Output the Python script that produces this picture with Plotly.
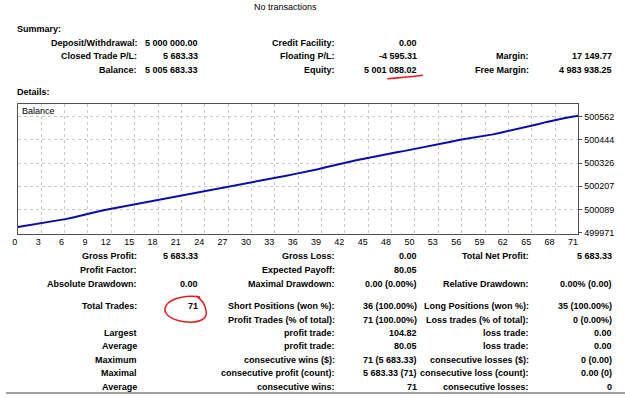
import plotly.graph_objects as go

W, H = 625, 398

# ---- data ----
profits = [62, 70, 65, 68, 72, 63,
           88, 84,
           104.82, 96, 98,
           75, 72, 78, 70, 76,
           80, 74, 78,
           76, 78, 72, 80, 74,
           78, 74, 76,
           66, 70, 68, 66,
           88, 86, 90, 84,
           76, 74,
           98, 102, 100, 100,
           86, 82, 84, 88, 80,
           72, 74, 70, 74,
           80, 82, 78, 80,
           86, 84,
           60, 62, 58,
           86, 88, 84, 86, 86,
           102, 100, 104, 104,
           72, 70, 71.51]
start_balance = 5000000.00
balance = [start_balance]
for p in profits:
    balance.append(round(balance[-1] + p, 2))
trades = list(range(len(balance)))

x_tick_labels = ["0", "3", "6", "9", "12", "15", "18", "21", "24", "27", "30", "33", "36",
                 "39", "42", "45", "48", "50", "53", "56", "59", "62", "65", "68", "71"]
y_tick_values = [4999710, 5000893, 5002076, 5003260, 5004443, 5005626]
y_tick_labels = ["499971", "500089", "500207", "500326", "500444", "500562"]

summary_rows = [
    ["Deposit/Withdrawal:", "5 000 000.00", "Credit Facility:", "0.00", "", ""],
    ["Closed Trade P/L:", "5 683.33", "Floating P/L:", "-4 595.31", "Margin:", "17 149.77"],
    ["Balance:", "5 005 683.33", "Equity:", "5 001 088.02", "Free Margin:", "4 983 938.25"],
]
stats_rows = [
    ["Gross Profit:", "5 683.33", "Gross Loss:", "0.00", "Total Net Profit:", "5 683.33"],
    ["Profit Factor:", "", "Expected Payoff:", "80.05", "", ""],
    ["Absolute Drawdown:", "0.00", "Maximal Drawdown:", "0.00 (0.00%)", "Relative Drawdown:", "0.00% (0.00)"],
    ["Total Trades:", "71", "Short Positions (won %):", "36 (100.00%)", "Long Positions (won %):", "35 (100.00%)"],
    ["", "", "Profit Trades (% of total):", "71 (100.00%)", "Loss trades (% of total):", "0 (0.00%)"],
    ["Largest", "", "profit trade:", "104.82", "loss trade:", "0.00"],
    ["Average", "", "profit trade:", "80.05", "loss trade:", "0.00"],
    ["Maximum", "", "consecutive wins ($):", "71 (5 683.33)", "consecutive losses ($):", "0 (0.00)"],
    ["Maximal", "", "consecutive profit (count):", "5 683.33 (71)", "consecutive loss (count):", "0.00 (0)"],
    ["Average", "", "consecutive wins:", "71", "consecutive losses:", "0"],
]

# ---- layout helpers ----
def px(x):
    return x / W

def py(y):
    return 1 - y / H

FONT = "Liberation Sans"
col_x = [133, 195, 333, 416, 529, 613]
summary_y = [43, 57, 71]
stats_y = [259, 273, 287, 309, 323, 336, 350, 364, 377, 391]

annotations = []

def add_text(x, y, text, anchor="right", bold=True, size=9):
    annotations.append(dict(
        x=px(x), y=py(y), xref="paper", yref="paper", text=("<b>%s</b>" % text) if bold else text,
        showarrow=False, xanchor=anchor, yanchor="middle",
        font=dict(family=FONT, size=size, color="#000000"), borderpad=0))

add_text(282, 7, "No transactions", anchor="center", bold=False)
add_text(10, 29, "Summary:", anchor="left")
add_text(10, 93, "Details:", anchor="left")

for rows, ys in ((summary_rows, summary_y), (stats_rows, stats_y)):
    for row, y in zip(rows, ys):
        for txt, x in zip(row, col_x):
            if txt:
                add_text(x, y, txt)

add_text(15, 112, "Balance", anchor="left", bold=False)

# plot area in pixels
L, R, T, B = 12, 578, 105, 236
y_per_px = 1183.2 / 23.4
y_lo = 4999710 - (B - 235) * y_per_px
y_hi = 4999710 + (235 - T) * y_per_px

fig = go.Figure()
fig.add_trace(go.Scatter(x=trades, y=balance, mode="lines",
                         line=dict(color="#0c0ca8", width=2), hoverinfo="skip",
                         showlegend=False))

n = len(x_tick_labels)
x_tick_vals = [k * trades[-1] / (n - 1) for k in range(n)]

shapes = [
    # red underline under equity
    dict(type="path", xref="paper", yref="paper",
         path="M %f %f Q %f %f %f %f" % (px(385), py(79.5), px(400), py(78.5), px(421), py(76)),
         line=dict(color="#e02020", width=1.5)),
    # red circle around total trades
    dict(type="path", xref="paper", yref="paper",
         path=("M %f %f C %f %f %f %f %f %f C %f %f %f %f %f %f C %f %f %f %f %f %f C %f %f %f %f %f %f"
               % (px(196), py(300),
                  px(185), py(298), px(168), py(300), px(162), py(308),
                  px(157), py(316), px(165), py(323), px(180), py(325),
                  px(195), py(327), px(204), py(322), px(202), py(314),
                  px(201), py(307), px(197), py(302), px(192), py(299))),
         line=dict(color="#e02020", width=1.5)),
    # bottom rule
    dict(type="line", xref="paper", yref="paper", x0=0, x1=1, y0=py(397), y1=py(397),
         line=dict(color="#a0a0a0", width=2)),
]

fig.update_layout(
    width=W, height=H, margin=dict(l=0, r=0, t=0, b=0),
    paper_bgcolor="white", plot_bgcolor="white",
    annotations=annotations, shapes=shapes, showlegend=False,
    xaxis=dict(domain=[px(L), px(R)], range=[0, trades[-1]],
               tickvals=x_tick_vals, ticktext=x_tick_labels,
               ticklabelposition="outside left",
               showgrid=True, gridcolor="#c8c8c8", griddash="dot", gridwidth=1,
               showline=True, linecolor="#505050", linewidth=1, mirror=True,
               ticks="", zeroline=False,
               tickfont=dict(family=FONT, size=9, color="#000000")),
    yaxis=dict(domain=[py(B), py(T)], range=[y_lo, y_hi], side="right",
               tickvals=y_tick_values, ticktext=y_tick_labels,
               showgrid=True, gridcolor="#c8c8c8", griddash="dot", gridwidth=1,
               showline=True, linecolor="#505050", linewidth=1, mirror=True,
               ticks="outside", ticklen=3, tickcolor="#505050", zeroline=False,
               tickfont=dict(family=FONT, size=9, color="#000000")),
)

fig.write_html("out.html")
